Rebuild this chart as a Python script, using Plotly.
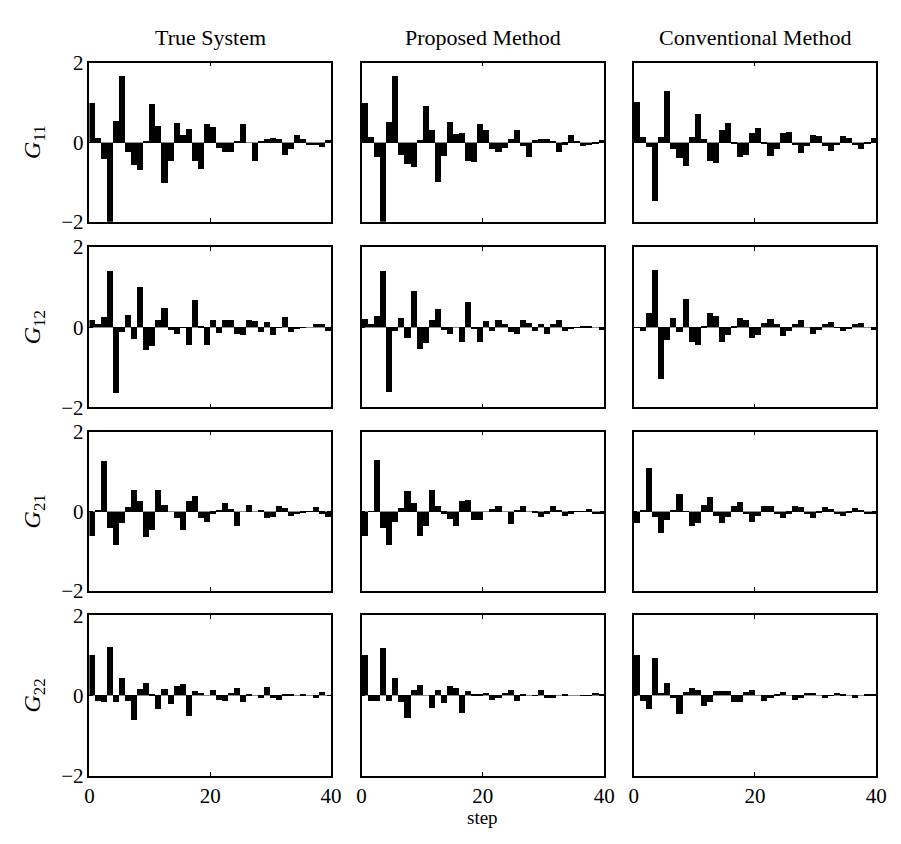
import plotly.graph_objects as go

# Impulse-response coefficients, steps 0..39, for each channel and estimator
steps = list(range(40))
col_titles = ["True System", "Proposed Method", "Conventional Method"]
row_labels = ["11", "12", "21", "22"]

g11_true = [1.0, 0.12, -0.41, -1.98, 0.54, 1.67, -0.23, -0.57, -0.69, 0.03,
            0.96, 0.42, -1.02, -0.46, 0.5, 0.2, 0.35, -0.46, -0.65, 0.47,
            0.4, -0.14, -0.24, -0.24, 0.04, 0.46, 0.0, -0.45, 0.02, 0.08,
            0.12, 0.1, -0.3, -0.16, 0.2, 0.08, -0.06, -0.06, -0.12, 0.06]
g11_prop = [1.0, 0.15, -0.37, -2.0, 0.53, 1.67, -0.3, -0.54, -0.62, 0.06,
            0.92, 0.31, -0.98, -0.34, 0.53, 0.21, 0.24, -0.46, -0.49, 0.48,
            0.31, -0.17, -0.24, -0.14, 0.09, 0.33, -0.09, -0.36, 0.06, 0.08,
            0.09, 0.03, -0.24, -0.05, 0.19, 0.05, -0.08, -0.06, -0.03, 0.06]
g11_conv = [1.01, 0.14, -0.1, -1.47, 0.14, 1.29, -0.17, -0.39, -0.58, 0.14,
            0.72, 0.1, -0.46, -0.51, 0.32, 0.5, -0.04, -0.35, -0.31, 0.24,
            0.38, -0.04, -0.33, -0.16, 0.24, 0.27, -0.07, -0.25, -0.09, 0.2,
            0.16, -0.08, -0.2, -0.07, 0.16, 0.12, -0.06, -0.15, -0.04, 0.12]

g12_true = [0.19, 0.08, 0.26, 1.39, -1.65, -0.13, 0.3, -0.3, 1.0, -0.57,
            -0.47, 0.17, 0.48, -0.06, -0.18, -0.02, -0.44, 0.68, 0.02, -0.44,
            0.17, -0.15, 0.19, 0.17, -0.18, -0.2, 0.17, 0.15, -0.13, 0.12,
            -0.2, -0.02, 0.26, -0.13, -0.03, -0.01, 0.0, 0.07, 0.07, -0.1]
g12_prop = [0.21, 0.08, 0.29, 1.41, -1.62, -0.1, 0.23, -0.28, 0.91, -0.55,
            -0.4, 0.17, 0.46, -0.08, -0.16, 0.0, -0.36, 0.63, -0.04, -0.36,
            0.15, -0.1, 0.19, 0.07, -0.13, -0.16, 0.17, 0.1, -0.1, 0.07,
            -0.16, 0.07, 0.17, -0.1, -0.03, -0.01, 0.02, 0.02, 0.0, -0.08]
g12_conv = [-0.02, -0.1, 0.36, 1.43, -1.3, -0.32, 0.23, -0.13, 0.7, -0.38,
            -0.45, 0.02, 0.36, 0.29, -0.38, -0.19, 0.01, 0.23, 0.19, -0.28,
            -0.19, 0.1, 0.21, 0.07, -0.21, -0.1, 0.07, 0.17, 0.0, -0.16,
            -0.08, 0.07, 0.12, -0.01, -0.1, -0.05, 0.07, 0.1, 0.0, -0.08]

g21_true = [-0.62, 0.03, 1.28, -0.4, -0.84, -0.28, 0.11, 0.54, 0.28, -0.64,
            -0.47, 0.54, 0.18, 0.0, -0.15, -0.47, 0.28, 0.4, -0.17, -0.25,
            -0.05, 0.03, 0.23, 0.06, -0.35, 0.0, 0.18, 0.0, 0.03, -0.15,
            -0.13, 0.15, 0.08, -0.1, -0.07, -0.01, 0.01, 0.11, -0.05, -0.13]
g21_prop = [-0.62, 0.01, 1.3, -0.4, -0.84, -0.25, 0.08, 0.52, 0.23, -0.62,
            -0.37, 0.54, 0.15, -0.05, -0.18, -0.37, 0.28, 0.3, -0.2, -0.2,
            0.0, 0.06, 0.15, 0.0, -0.3, 0.03, 0.15, 0.0, -0.01, -0.13,
            -0.05, 0.13, 0.03, -0.1, -0.05, 0.01, 0.01, 0.06, -0.07, -0.07]
g21_conv = [-0.28, 0.02, 1.1, -0.13, -0.54, -0.22, 0.03, 0.45, 0.01, -0.35,
            -0.28, 0.18, 0.37, -0.1, -0.28, -0.14, 0.15, 0.25, -0.07, -0.25,
            -0.1, 0.15, 0.15, -0.07, -0.17, -0.05, 0.13, 0.11, -0.07, -0.15,
            -0.02, 0.11, 0.06, -0.07, -0.1, -0.01, 0.08, 0.03, -0.07, -0.07]

g22_true = [0.99, -0.14, -0.16, 1.21, -0.16, 0.43, -0.14, -0.61, 0.16, 0.31,
            0.02, -0.34, 0.16, -0.22, 0.23, 0.28, -0.51, 0.11, 0.06, 0.0,
            0.14, -0.11, -0.14, 0.06, 0.19, -0.16, 0.02, 0.0, -0.08, 0.21,
            -0.06, -0.11, 0.04, 0.02, 0.0, 0.04, 0.0, -0.08, 0.09, 0.0]
g22_prop = [0.99, -0.14, -0.14, 1.18, -0.14, 0.43, -0.16, -0.56, 0.14, 0.26,
            0.0, -0.32, 0.14, -0.19, 0.24, 0.19, -0.44, 0.11, 0.04, 0.02,
            0.06, -0.11, -0.08, 0.06, 0.14, -0.14, 0.01, 0.0, -0.02, 0.14,
            -0.06, -0.06, 0.0, 0.01, 0.0, 0.0, -0.02, -0.02, 0.06, 0.01]
g22_conv = [0.99, -0.14, -0.34, 0.92, 0.06, 0.31, -0.06, -0.46, 0.09, 0.19,
            0.14, -0.26, -0.18, 0.11, 0.11, 0.11, -0.16, -0.16, 0.09, 0.14,
            0.0, -0.14, -0.06, 0.04, 0.09, 0.0, -0.11, -0.06, 0.06, 0.06,
            0.0, -0.08, -0.02, 0.06, 0.04, 0.0, -0.06, 0.0, 0.04, 0.04]

grid = [
    [g11_true, g11_prop, g11_conv],
    [g12_true, g12_prop, g12_conv],
    [g21_true, g21_prop, g21_conv],
    [g22_true, g22_prop, g22_conv],
]

W, H = 901, 844
col_px = [(86, 332), (363, 610), (640, 887)]
row_px = [(52, 216), (242, 407), (432, 596), (621, 786)]

FONT = "Liberation Serif, Times New Roman, serif"
TICK_SIZE = 21

fig = go.Figure()
layout = dict(
    width=W, height=H,
    margin=dict(l=0, r=0, t=0, b=0),
    paper_bgcolor="white", plot_bgcolor="white",
    showlegend=False, bargap=0,
    font=dict(family=FONT, size=TICK_SIZE, color="black"),
)

for r in range(4):
    for c in range(3):
        idx = r * 3 + c + 1
        xa = "x" if idx == 1 else f"x{idx}"
        ya = "y" if idx == 1 else f"y{idx}"
        fig.add_trace(go.Bar(
            x=[s + 0.5 for s in steps], y=grid[r][c], width=1,
            marker=dict(color="black", line=dict(width=0)),
            xaxis=xa, yaxis=ya, hoverinfo="x+y",
        ))
        x0, x1 = col_px[c]
        y0, y1 = row_px[r]
        axis_common = dict(
            showline=True, linecolor="black", linewidth=1.5, mirror="ticks",
            ticks="inside", ticklen=4, tickwidth=1, tickcolor="black",
            showgrid=False,
            tickfont=dict(family=FONT, size=TICK_SIZE, color="black"),
        )
        layout[xa.replace("x", "xaxis")] = dict(
            axis_common,
            domain=[x0 / W, x1 / W], range=[0, 40],
            tickvals=[0, 20, 40], showticklabels=(r == 3),
            anchor=ya, zeroline=False,
        )
        ylay = dict(
            axis_common,
            domain=[1 - y1 / H, 1 - y0 / H], range=[-2, 2],
            tickvals=[-2, 0, 2], showticklabels=(c == 0),
            anchor=xa, zeroline=True, zerolinecolor="#8c8c8c", zerolinewidth=1,
        )
        if c == 0:
            ylay["title"] = dict(
                text=f"<i>G</i><sub>{row_labels[r]}</sub>",
                font=dict(family=FONT, size=24, color="black"), standoff=14,
            )
        layout[ya.replace("y", "yaxis")] = ylay

annotations = []
for c, t in enumerate(col_titles):
    x0, x1 = col_px[c]
    annotations.append(dict(
        text=t, x=(x0 + x1) / 2 / W, y=1 - 26 / H, xref="paper", yref="paper",
        showarrow=False, xanchor="center", yanchor="middle",
        font=dict(family=FONT, size=22, color="black"),
    ))
annotations.append(dict(
    text="step", x=(col_px[1][0] + col_px[1][1]) / 2 / W, y=0,
    xref="paper", yref="paper", showarrow=False,
    xanchor="center", yanchor="bottom", yshift=2,
    font=dict(family=FONT, size=19, color="black"),
))
layout["annotations"] = annotations

fig.update_layout(**layout)
fig.write_html("out.html")
